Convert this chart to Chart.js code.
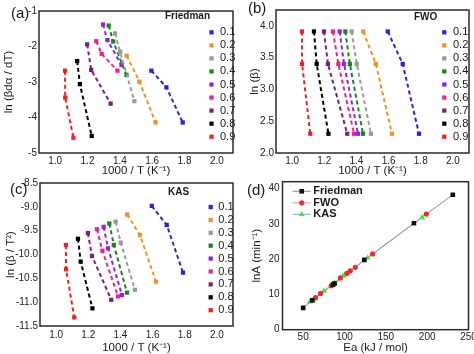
<!DOCTYPE html>
<html><head><meta charset="utf-8">
<script src="https://cdn.jsdelivr.net/npm/chart.js@4.4.0/dist/chart.umd.min.js"></script>
<style>
html,body{margin:0;padding:0;background:#fff;}
#wrap{position:relative;width:474px;height:354px;overflow:hidden;background:#fff;}
.p{position:absolute;width:237px;height:177px;}
</style></head><body>
<div id="wrap">
<div class="p" style="left:0;top:0"><canvas id="ca"></canvas></div>
<div class="p" style="left:237px;top:0"><canvas id="cb"></canvas></div>
<div class="p" style="left:0;top:177px"><canvas id="cc"></canvas></div>
<div class="p" style="left:237px;top:177px"><canvas id="cd"></canvas></div>
</div>
<script>
// ---- data ----
const conversions = ['0.1','0.2','0.3','0.4','0.5','0.6','0.7','0.8','0.9'];
const seriesColors = ['#2424e8','#f7901e','#9a9a9a','#16861e','#8a22f0','#f0208a','#7c1f7c','#000000','#f42020'];
// 1000/T (K^-1) at heating rates 50, 30, 10 K/min for each conversion
const invT50 = [1.595,1.442,1.370,1.331,1.296,1.254,1.198,1.136,1.061];
const invT30 = [1.688,1.521,1.402,1.359,1.323,1.288,1.223,1.153,1.062];
const invT10 = [1.789,1.621,1.490,1.441,1.410,1.385,1.343,1.226,1.113];
// Friedman: ln(beta da/dT)
const friedman50 = [-2.68,-2.26,-1.63,-1.41,-1.38,-1.85,-1.94,-2.41,-2.68];
const friedman30 = [-3.15,-2.99,-2.15,-1.86,-1.82,-2.21,-2.66,-3.06,-3.44];
const friedman10 = [-4.14,-4.14,-3.54,-2.80,-2.52,-2.68,-3.61,-4.52,-4.57];
// FWO: ln(beta) for 50, 30, 10
const fwoLnBeta = [3.912,3.401,2.303];
// KAS: ln(beta/T^2)
const kas50 = [-8.98,-9.16,-9.31,-9.35,-9.42,-9.47,-9.55,-9.67,-9.80];
const kas30 = [-9.38,-9.59,-9.75,-9.80,-9.87,-9.92,-10.03,-10.15,-10.31];
const kas10 = [-10.38,-10.57,-10.74,-10.80,-10.85,-10.88,-10.95,-11.13,-11.32];
// panel (d)
const methods = ['Friedman','FWO','KAS'];
const friedmanEa = [50,61,86,88,124,184,231];
const friedmanLnA = [6.2,8.3,12.8,13.1,19.8,30.2,38.3];
const fwoEa = [65,71,84,95,103,107,113,134,199];
const fwoLnA = [9.1,10.3,12.5,14.7,16.0,16.7,17.7,21.5,32.8];
const kasEa = [58,62,75,86,88,98,100,128,194];
const kasLnA = [7.9,8.4,11.0,13.0,13.3,15.2,15.5,20.4,31.9];
// tick labels
const xTicksT = [1.0,1.2,1.4,1.6,1.8,2.0];
const yTicksA = [-5,-4,-3,-2,-1];
const yTicksB = [2.0,2.5,3.0,3.5,4.0];
const yTicksC = [-11.5,-11.0,-10.5,-10.0,-9.5,-9.0,-8.5];
const xTicksD = [50,100,150,200,250];
const yTicksD = [0,10,20,30,40];

// ---- rendering ----
const FONT = '"Liberation Sans", Arial, sans-serif';
Chart.defaults.font.family = FONT;
Chart.defaults.color = '#1a1a1a';
Chart.defaults.animation = false;

function marker(ctx, style, x, y, r, color) {
  ctx.fillStyle = color; ctx.beginPath();
  if (style === 'circle') ctx.arc(x, y, r, 0, Math.PI * 2);
  else if (style === 'triangle') { ctx.moveTo(x, y - r); ctx.lineTo(x + r * 0.866, y + r * 0.5); ctx.lineTo(x - r * 0.866, y + r * 0.5); ctx.closePath(); }
  else { const s = r * Math.SQRT1_2; ctx.rect(x - s, y - s, 2 * s, 2 * s); }
  ctx.fill();
}

const panelDecor = {
  id: 'panelDecor',
  afterDraw(chart, args, o) {
    const ctx = chart.ctx, ca = chart.chartArea;
    ctx.save();
    ctx.setLineDash([]);
    ctx.lineWidth = 1.5; ctx.strokeStyle = '#2b2b2b';
    ctx.strokeRect(ca.left, ca.top, ca.right - ca.left, ca.bottom - ca.top);
    ctx.textBaseline = 'middle'; ctx.textAlign = 'left'; ctx.fillStyle = '#1a1a1a';
    if (o.letter) { ctx.font = '15px ' + FONT; ctx.fillText(o.letter, o.letterX, o.letterY); }
    if (o.header) { ctx.font = 'bold 10px ' + FONT; ctx.fillStyle = '#1a1a1a'; ctx.fillText(o.header, o.headerX, o.headerY); }
    const items = chart.data.datasets.filter(d => d.legendItem);
    items.forEach((d, i) => {
      const y = o.legY0 + i * o.legDy;
      if (o.mode === 'line') {
        ctx.strokeStyle = d.lineColor; ctx.lineWidth = 1;
        ctx.beginPath(); ctx.moveTo(o.legX - 9, y); ctx.lineTo(o.legX + 9, y); ctx.stroke();
        marker(ctx, d.pointStyle, o.legX, y, d.pointRadius, d.pointBackgroundColor);
        ctx.font = 'bold 11px ' + FONT;
      } else {
        marker(ctx, 'rect', o.legX, y, 3, d.pointBackgroundColor);
        ctx.font = '11px ' + FONT;
      }
      ctx.fillStyle = '#1a1a1a';
      ctx.fillText(d.label, o.legTextX, y);
    });
    ctx.restore();
  }
};
Chart.register(panelDecor);

function linAxis(o) {
  return {
    type: 'linear', position: o.pos, min: o.min, max: o.max,
    grid: { display: false, drawTicks: false },
    border: { display: false },
    ticks: { font: { size: 10 }, padding: o.tickPad, color: '#222', autoSkip: false, maxRotation: 0,
             callback: v => o.fmt(v) },
    afterBuildTicks: s => { s.ticks = o.ticks.map(v => ({ value: v })); },
    afterFit: s => {
      if (o.pos === 'bottom') { s.height = o.size; s.paddingLeft = 0; s.paddingRight = 0; }
      else { s.width = o.size; s.paddingTop = 0; s.paddingBottom = 0; }
    },
    title: { display: true, text: o.title, font: { size: 11.5, lineHeight: 1 }, color: '#1a1a1a',
             padding: { top: o.titlePad, bottom: o.titlePad } }
  };
}

function seriesDatasets(getY) {
  return conversions.map((c, i) => {
    const xs = [invT50[i], invT30[i], invT10[i]];
    const ys = getY(i);
    return {
      label: c, legendItem: true,
      data: xs.map((x, k) => ({ x: x, y: ys[k] })),
      showLine: true, borderColor: seriesColors[i], borderWidth: 2, borderDash: [4, 3],
      pointStyle: 'rect', pointRadius: 3, pointBackgroundColor: seriesColors[i], pointBorderWidth: 0
    };
  });
}

function baseOpts(pad, decor, xAxis, yAxis) {
  return {
    responsive: true, maintainAspectRatio: false, animation: false, devicePixelRatio: 1,
    layout: { padding: pad },
    plugins: { legend: { display: false }, tooltip: { enabled: false }, panelDecor: decor },
    scales: { x: xAxis, y: yAxis }
  };
}

const fmt1 = v => v.toFixed(1);

new Chart(document.getElementById('ca'), {
  type: 'scatter',
  data: { datasets: seriesDatasets(i => [friedman50[i], friedman30[i], friedman10[i]]) },
  options: baseOpts({ left: 0, right: 4, top: 11, bottom: 0 },
    { letter: '(a)', letterX: 11, letterY: 14, header: 'Friedman', headerX: 165, headerY: 16.5,
      legX: 211.5, legTextX: 220, legY0: 32.3, legDy: 13.05 },
    linAxis({ pos: 'bottom', min: 0.9, max: 2.1, ticks: xTicksT, fmt: fmt1, title: '1000 / T (K⁻¹)', titlePad: 0, size: 24, tickPad: 2 }),
    linAxis({ pos: 'left', min: -5, max: -1, ticks: yTicksA, fmt: v => String(v), title: 'ln (βdα / dT)', titlePad: 3, size: 39, tickPad: 2 }))
});

new Chart(document.getElementById('cb'), {
  type: 'scatter',
  data: { datasets: seriesDatasets(i => fwoLnBeta) },
  options: baseOpts({ left: 0, right: 5, top: 10, bottom: 0 },
    { letter: '(b)', letterX: 11, letterY: 9, header: 'FWO', headerX: 177, headerY: 17.3,
      legX: 207.3, legTextX: 216, legY0: 32.3, legDy: 13.05 },
    linAxis({ pos: 'bottom', min: 0.9, max: 2.1, ticks: xTicksT, fmt: fmt1, title: '1000 / T (K⁻¹)', titlePad: 0, size: 24, tickPad: 2 }),
    linAxis({ pos: 'left', min: 2.0, max: 4.25, ticks: yTicksB, fmt: fmt1, title: 'ln (β)', titlePad: 12, size: 39, tickPad: 2 }))
});

new Chart(document.getElementById('cc'), {
  type: 'scatter',
  data: { datasets: seriesDatasets(i => [kas50[i], kas30[i], kas10[i]]) },
  options: baseOpts({ left: 0, right: 4, top: 6, bottom: 0 },
    { letter: '(c)', letterX: 10, letterY: 13, header: 'KAS', headerX: 168, headerY: 15,
      legX: 210.7, legTextX: 218.3, legY0: 30, legDy: 12.9 },
    linAxis({ pos: 'bottom', min: 0.9, max: 2.1, ticks: xTicksT, fmt: fmt1, title: '1000 / T (K⁻¹)', titlePad: 0, size: 28, tickPad: 3 }),
    linAxis({ pos: 'left', min: -11.5, max: -8.5, ticks: yTicksC, fmt: fmt1, title: 'ln (β / T²)', titlePad: 5, size: 40, tickPad: 2 }))
});

function methodSets() {
  const pts = [
    { label: methods[0], xs: friedmanEa, ys: friedmanLnA, style: 'rect', r: 3.3, color: '#111111', line: '#8a8a8a' },
    { label: methods[1], xs: fwoEa, ys: fwoLnA, style: 'circle', r: 2.6, color: '#f42a2a', line: '#f29a9a' },
    { label: methods[2], xs: kasEa, ys: kasLnA, style: 'triangle', r: 3.4, color: '#3ee63e', line: '#7aa8dc' }
  ];
  const sets = [];
  pts.forEach((m, k) => {
    const data = m.xs.map((x, j) => ({ x: x, y: m.ys[j] }));
    sets.push({ label: m.label, legendItem: true, lineColor: m.line, data: data, showLine: false,
      pointStyle: m.style, pointRadius: m.r, pointBackgroundColor: m.color, pointBorderWidth: 0, order: 0 });
    sets.push({ label: m.label + ' line', data: data.slice().sort((a, b) => a.x - b.x), showLine: true,
      borderColor: m.line, borderWidth: 1, pointRadius: 0, order: 3 - k });
  });
  return sets;
}

new Chart(document.getElementById('cd'), {
  type: 'scatter',
  data: { datasets: methodSets() },
  options: baseOpts({ left: 0, right: 5.5, top: 4.7, bottom: 0 },
    { letter: '(d)', letterX: 10, letterY: 14, mode: 'line',
      legX: 64.7, legTextX: 76.3, legY0: 14.3, legDy: 11.5 },
    linAxis({ pos: 'bottom', min: 25, max: 250, ticks: xTicksD, fmt: v => String(v), title: 'Ea (kJ / mol)', titlePad: 0, size: 24.3, tickPad: 2 }),
    linAxis({ pos: 'left', min: 0, max: 42, ticks: yTicksD, fmt: v => String(v), title: 'lnA (min⁻¹)', titlePad: 14, size: 45.5, tickPad: 3 }))
});
</script>
</body></html>
